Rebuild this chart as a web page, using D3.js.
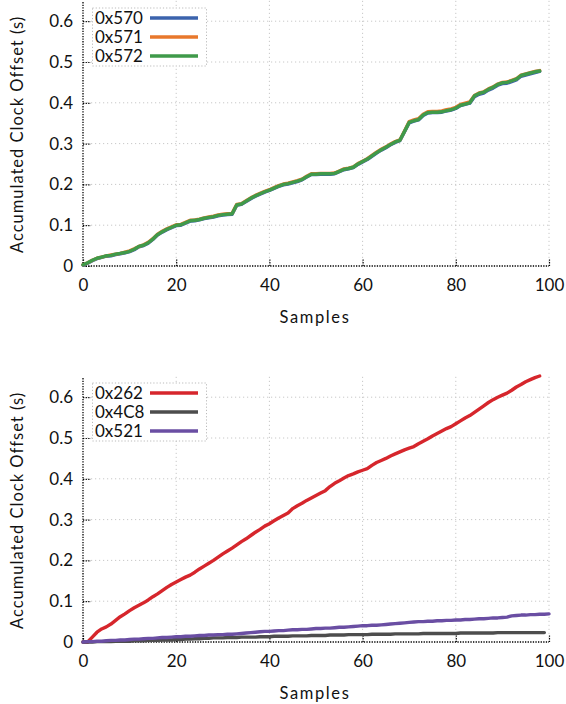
<!DOCTYPE html>
<html><head><meta charset="utf-8">
<script src="https://cdn.jsdelivr.net/npm/d3@7"></script>
<style>html,body{margin:0;padding:0;background:#fff;}svg{display:block;}text{font-family:Lato,"Open Sans",sans-serif;fill:#111;}</style>
</head><body>
<script>
// ---------- DATA ----------
const xTicks = [0, 20, 40, 60, 80, 100];
const yTicks = [0, 0.1, 0.2, 0.3, 0.4, 0.5, 0.6];
const yTickLabels = ["0", "0.1", "0.2", "0.3", "0.4", "0.5", "0.6"];
const xTitle = "Samples";
const yTitle = "Accumulated Clock Offset (s)";

const topNames = ["0x570", "0x571", "0x572"];
const topColors = ["#3b63ad", "#e8782c", "#3f9a4a"];
const s0x572 = [0.003,0.008,0.014,0.019,0.022,0.025,0.026,0.029,0.031,0.033,0.036,0.041,0.048,0.051,0.057,0.066,0.077,0.084,0.090,0.095,
0.100,0.101,0.106,0.111,0.112,0.114,0.117,0.119,0.121,0.124,0.126,0.127,0.128,0.150,0.152,0.159,0.166,0.172,0.177,0.182,
0.186,0.191,0.196,0.200,0.202,0.205,0.208,0.212,0.219,0.225,0.225,0.226,0.226,0.226,0.227,0.232,0.237,0.239,0.242,0.250,
0.256,0.262,0.270,0.278,0.285,0.291,0.298,0.304,0.308,0.330,0.352,0.356,0.359,0.370,0.376,0.377,0.377,0.378,0.381,0.383,
0.387,0.394,0.397,0.400,0.417,0.423,0.426,0.433,0.438,0.445,0.449,0.450,0.454,0.458,0.467,0.470,0.473,0.476,0.478];
const s0x571 = [0.003,0.008,0.014,0.019,0.022,0.025,0.027,0.029,0.031,0.034,0.037,0.042,0.048,0.052,0.058,0.067,0.078,0.085,0.091,0.096,
0.101,0.102,0.107,0.112,0.113,0.115,0.118,0.120,0.122,0.125,0.127,0.128,0.129,0.151,0.153,0.160,0.167,0.173,0.178,0.183,
0.187,0.192,0.197,0.201,0.203,0.206,0.209,0.213,0.220,0.226,0.226,0.227,0.227,0.227,0.228,0.233,0.238,0.240,0.243,0.251,
0.257,0.263,0.271,0.279,0.286,0.292,0.299,0.305,0.309,0.331,0.354,0.358,0.361,0.372,0.378,0.379,0.379,0.380,0.383,0.385,
0.389,0.396,0.399,0.402,0.418,0.424,0.427,0.434,0.439,0.446,0.450,0.451,0.455,0.459,0.468,0.471,0.474,0.477,0.479];
const s0x570 = [0.002,0.007,0.013,0.018,0.021,0.024,0.025,0.028,0.030,0.032,0.035,0.040,0.047,0.050,0.056,0.065,0.076,0.083,0.089,0.094,
0.099,0.100,0.105,0.110,0.111,0.113,0.116,0.118,0.120,0.123,0.125,0.126,0.127,0.149,0.151,0.158,0.165,0.171,0.176,0.181,
0.185,0.190,0.195,0.199,0.201,0.204,0.207,0.211,0.218,0.224,0.224,0.225,0.225,0.225,0.226,0.231,0.236,0.238,0.241,0.249,
0.255,0.261,0.269,0.277,0.284,0.290,0.297,0.303,0.307,0.329,0.351,0.355,0.358,0.369,0.375,0.376,0.376,0.377,0.380,0.382,
0.386,0.393,0.396,0.399,0.415,0.421,0.424,0.431,0.436,0.443,0.447,0.448,0.452,0.456,0.465,0.468,0.471,0.474,0.477];

const botNames = ["0x262", "0x4C8", "0x521"];
const botColors = ["#d6262c", "#4d4d4d", "#6a4ea3"];
const s0x262 = [0.000,0.000,0.012,0.024,0.032,0.037,0.044,0.053,0.062,0.069,0.077,0.084,0.090,0.096,0.103,0.111,0.118,0.126,0.134,0.141,
0.147,0.153,0.159,0.164,0.171,0.179,0.186,0.193,0.200,0.208,0.216,0.223,0.230,0.238,0.246,0.253,0.261,0.269,0.276,0.284,
0.290,0.297,0.304,0.310,0.316,0.327,0.334,0.340,0.347,0.353,0.359,0.365,0.371,0.381,0.389,0.395,0.402,0.408,0.412,0.417,
0.421,0.425,0.433,0.440,0.445,0.450,0.456,0.461,0.466,0.471,0.475,0.479,0.486,0.492,0.498,0.505,0.511,0.517,0.523,0.528,
0.535,0.542,0.549,0.555,0.563,0.571,0.579,0.587,0.594,0.600,0.605,0.610,0.617,0.625,0.631,0.638,0.643,0.648,0.652];
const s0x4C8 = [0.000,0.000,0.000,0.001,0.001,0.001,0.001,0.002,0.002,0.002,0.002,0.003,0.003,0.003,0.004,0.004,0.004,0.005,0.005,0.005,
0.006,0.006,0.007,0.007,0.008,0.008,0.009,0.009,0.010,0.010,0.010,0.011,0.011,0.011,0.012,0.012,0.012,0.012,0.013,0.013,
0.013,0.014,0.014,0.014,0.014,0.015,0.015,0.015,0.015,0.016,0.016,0.016,0.016,0.017,0.017,0.017,0.017,0.018,0.018,0.018,
0.018,0.018,0.019,0.019,0.019,0.019,0.019,0.020,0.020,0.020,0.020,0.020,0.020,0.021,0.021,0.021,0.021,0.021,0.021,0.021,
0.021,0.022,0.022,0.022,0.022,0.022,0.022,0.022,0.022,0.023,0.023,0.023,0.023,0.023,0.023,0.023,0.023,0.023,0.023,0.023];
const s0x521 = [0.000,0.001,0.001,0.002,0.002,0.003,0.004,0.004,0.005,0.005,0.006,0.007,0.007,0.008,0.009,0.009,0.010,0.011,0.011,0.012,
0.013,0.013,0.014,0.014,0.015,0.016,0.016,0.017,0.017,0.018,0.018,0.019,0.019,0.020,0.021,0.022,0.023,0.024,0.025,0.026,
0.026,0.027,0.028,0.028,0.029,0.030,0.030,0.031,0.031,0.032,0.033,0.033,0.034,0.034,0.035,0.036,0.036,0.037,0.038,0.039,
0.040,0.040,0.041,0.041,0.042,0.043,0.044,0.045,0.046,0.047,0.048,0.049,0.050,0.050,0.051,0.051,0.052,0.052,0.053,0.053,
0.054,0.054,0.055,0.055,0.056,0.057,0.057,0.058,0.059,0.059,0.060,0.061,0.064,0.065,0.066,0.066,0.067,0.067,0.068,0.068,0.069];

// ---------- DRAW ----------
const W = 566, H = 704;
const svg = d3.select("body").append("svg").attr("width", W).attr("height", H);

function panel(cfg) {
  const x = d3.scaleLinear().domain([0, 100]).range([83, 549]);
  const y = d3.scaleLinear().domain([0, 0.65]).range([cfg.bottom, cfg.bottom - 0.65 * 408]);
  const g = svg.append("g");
  const top = y(0.65);

  // gridlines
  g.selectAll(".gx").data(xTicks.filter(d => d > 0)).enter().append("line")
    .attr("x1", d => x(d)).attr("x2", d => x(d)).attr("y1", y(0)).attr("y2", top)
    .attr("stroke", "#c8c8c8").attr("stroke-width", 1).attr("stroke-dasharray", "1.2,2.8");
  g.selectAll(".gy").data(yTicks.filter(d => d > 0)).enter().append("line")
    .attr("x1", x(0)).attr("x2", x(100)).attr("y1", d => y(d)).attr("y2", d => y(d))
    .attr("stroke", "#c8c8c8").attr("stroke-width", 1).attr("stroke-dasharray", "1.2,2.8");

  // axes via d3
  const yAxis = d3.axisLeft(y).tickValues(yTicks).tickFormat((d, i) => yTickLabels[i]).tickSize(-8).tickPadding(10);
  const xAxis = d3.axisBottom(x).tickValues(xTicks).tickFormat(d3.format("d")).tickSize(-7).tickPadding(13);
  const ya = g.append("g").attr("transform", `translate(${x(0)},0)`).call(yAxis);
  const xa = g.append("g").attr("transform", `translate(0,${y(0)})`).call(xAxis);
  [ya, xa].forEach(a => {
    a.select(".domain").remove();
    a.selectAll(".tick line").attr("stroke", "#000").attr("stroke-width", 1.2).attr("stroke-dasharray", "1.3,1.3");
    a.selectAll(".tick text").style("font-family", "Lato, sans-serif").style("font-size", "17px").attr("fill", "#111");
  });
  // dotted axis lines
  g.append("line").attr("x1", x(0)).attr("x2", x(0)).attr("y1", y(0)).attr("y2", top)
    .attr("stroke", "#000").attr("stroke-width", 1.3).attr("stroke-dasharray", "1.3,1.3");
  g.append("line").attr("x1", x(0)).attr("x2", x(100)).attr("y1", y(0)).attr("y2", y(0))
    .attr("stroke", "#000").attr("stroke-width", 1.3).attr("stroke-dasharray", "1.3,1.3");

  // lines
  const line = d3.line().x((d, i) => x(i)).y(d => y(d)).curve(d3.curveLinear);
  cfg.series.forEach((s, k) => {
    g.append("path").datum(s).attr("d", line).attr("fill", "none")
      .attr("stroke", cfg.colors[k]).attr("stroke-width", 3.4)
      .attr("stroke-linejoin", "round").attr("stroke-linecap", "round");
  });

  // titles
  g.append("text").attr("transform", `translate(23,${(y(0) + top) / 2 + 1}) rotate(-90)`)
    .attr("text-anchor", "middle").style("font-size", "16.5px").style("letter-spacing", "1px").text(yTitle);
  g.append("text").attr("x", (x(0) + x(100)) / 2 - 1).attr("y", y(0) + 57)
    .attr("text-anchor", "middle").style("font-size", "16.5px").style("letter-spacing", "1.6px").text(xTitle);

  // legend
  const lg = g.append("g");
  const ly = cfg.legendTop;
  lg.append("rect").attr("x", 92.5).attr("y", ly).attr("width", 114).attr("height", 58)
    .attr("fill", "#fff").attr("stroke", "#bbb").attr("stroke-width", 1).attr("stroke-dasharray", "1.2,2");
  cfg.names.forEach((n, k) => {
    const cy = ly + 10 + k * 19;
    lg.append("text").attr("x", 95).attr("y", cy + 6).style("font-size", "17px").text(n);
    lg.append("line").attr("x1", 150).attr("x2", 198).attr("y1", cy).attr("y2", cy)
      .attr("stroke", cfg.colors[k]).attr("stroke-width", 3.4);
  });
}

panel({ bottom: 266, series: [s0x570, s0x571, s0x572], colors: topColors, names: topNames, legendTop: 8 });
panel({ bottom: 642, series: [s0x262, s0x4C8, s0x521], colors: botColors, names: botNames, legendTop: 383 });
</script>
</body></html>
